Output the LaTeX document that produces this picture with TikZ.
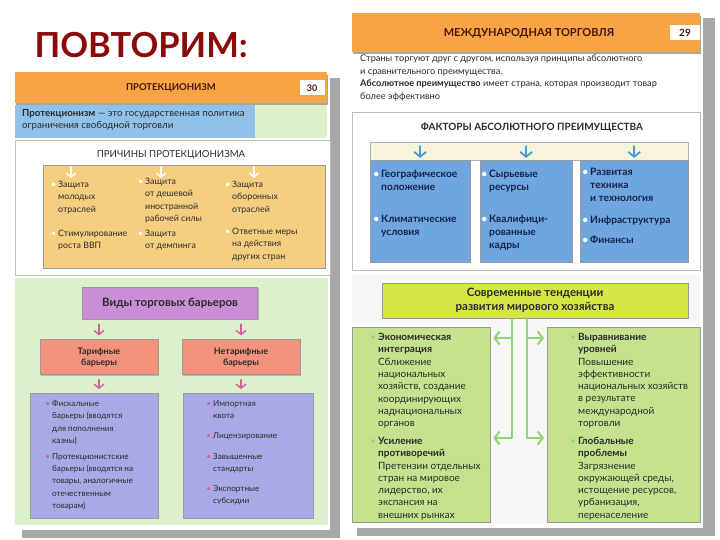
\documentclass[tikz,border=0pt]{standalone}
\usepackage{fontspec}
\setmainfont{Lato}
\usetikzlibrary{arrows.meta,shadows}
\definecolor{titlered}{HTML}{8B0A0A}
\definecolor{hdrorange}{HTML}{F6A444}
\definecolor{hdrink}{HTML}{4A1508}
\definecolor{defblue}{HTML}{8FC1E9}
\definecolor{leafgreen}{HTML}{DCF0CC}
\definecolor{tanfill}{HTML}{F6CE80}
\definecolor{vidpurple}{HTML}{C98ED6}
\definecolor{salmon}{HTML}{F4937C}
\definecolor{lavender}{HTML}{A9A9E6}
\definecolor{factblue}{HTML}{6FA6DF}
\definecolor{factink}{HTML}{13234A}
\definecolor{cream}{HTML}{F8F4DC}
\definecolor{lime}{HTML}{D6E645}
\definecolor{trendgreen}{HTML}{C5E38E}
\definecolor{arrgreen}{HTML}{93D47A}
\definecolor{arrblue}{HTML}{4A9AD8}
\definecolor{arrpink}{HTML}{D0609E}
\definecolor{inktxt}{HTML}{2A2A2A}
\definecolor{pageshadow}{HTML}{A8A8A8}
\newcommand\bul[1]{\llap{\textcolor{#1}{\textbullet}\hspace{2pt}}}

\begin{document}
\begin{tikzpicture}[x=1pt,y=-1pt,line cap=round,line join=round,
  txt/.style={anchor=north west,align=left,inner sep=0pt,text=inktxt,
    font=\fontsize{8.8}{12.4}\selectfont},
  smalltxt/.style={txt,font=\fontsize{8.2}{12.4}\selectfont},
  bigtxt/.style={txt,font=\fontsize{10}{12.3}\selectfont},
  facttxt/.style={txt,text=factink,font=\fontsize{10.2}{13}\selectfont\bfseries},
  hdrtext/.style={text=hdrink,font=\bfseries},
  pagenum/.style={fill=white,inner sep=1pt,minimum height=15,align=right,
    text=hdrink,font=\fontsize{9}{10}\selectfont\bfseries},
  box/.style={draw=black!40,line width=0.3pt,
    drop shadow={shadow xshift=1pt,shadow yshift=-1.2pt,opacity=.45}},
  whitearr/.style={white,line width=1.4pt,-{Straight Barb[length=4pt,width=9pt]}},
  pinkarr/.style={arrpink,line width=1.4pt,-{Straight Barb[length=4pt,width=10pt]},
    shorten <=5pt,shorten >=4pt},
  bluearr/.style={arrblue,line width=1.8pt,-{Straight Barb[length=5pt,width=12pt]}},
  grnline/.style={arrgreen,line width=2pt},
  grnarr/.style={grnline,-{Straight Barb[length=5pt,width=13pt]},shorten >=3pt}]
\useasboundingbox (0,0) rectangle (720,540);

\node[anchor=base west,text=titlered,font=\fontsize{34.5}{36}\selectfont\bfseries]
  (ttl) at (31,58) {ПОВТОРИМ:};

% left page: protectionism
\fill[pageshadow] (22,78) rectangle (340,538);
\fill[white] (15,72) rectangle (330,530);
\fill[leafgreen] (15,278) rectangle (328,525);
\fill[black!35] (16,75) rectangle (328,105);
\fill[hdrorange] (15,72) rectangle (327,103);
\node[hdrtext,font=\fontsize{9.5}{11}\selectfont\bfseries] (protH) at (171,88) {ПРОТЕКЦИОНИЗМ};
\node[pagenum,minimum width=25] (p30) at (312,88) {30};
\fill[defblue] (15,105) rectangle (255,138);
\fill[leafgreen] (255,105) rectangle (327,138);
\node[txt,font=\fontsize{9.7}{12.4}\selectfont] (def) at (22,109)
  {\textbf{Протекционизм} — это государственная политика\\ограничения свободной торговли};

\draw[black!25,fill=white] (15,140) rectangle (330,275);
\node[text=inktxt,font=\fontsize{9.6}{11}\selectfont] (causeT) at (171,155) {ПРИЧИНЫ ПРОТЕКЦИОНИЗМА};
\node[box,fill=tanfill,anchor=north west,minimum width=282,minimum height=103]
  (tan) at (43,165) {};
\foreach \x in {71,161,254}
  \draw[whitearr] (tan.north -| \x,0) ++(0,2) -- ++(0,11);
\node[txt] (c1) at (58,181) {\bul{white}Защита\\молодых\\отраслей};
\node[txt] (c2) at (58,230) {\bul{white}Стимулирование\\роста ВВП};
\node[txt] (c3) at (145,178) {\bul{white}Защита\\от дешевой\\иностранной\\рабочей силы};
\node[txt] (c4) at (145,230) {\bul{white}Защита\\от демпинга};
\node[txt] (c5) at (232,181) {\bul{white}Защита\\оборонных\\отраслей};
\node[txt] (c6) at (232,228) {\bul{white}Ответные меры\\на действия\\других стран};

% trade barriers
\node[box,fill=vidpurple,minimum width=175,minimum height=32,text=inktxt,
  font=\fontsize{11.5}{13}\selectfont\bfseries] (vid) at (170,303) {Виды торговых барьеров};
\node[box,fill=salmon,minimum width=118,minimum height=35,align=center,text=inktxt,
  font=\fontsize{9}{11}\selectfont\bfseries] (tar) at (99,357) {Тарифные\\барьеры};
\node[box,fill=salmon,minimum width=118,minimum height=35,align=center,text=inktxt,
  font=\fontsize{9}{11}\selectfont\bfseries] (netar) at (241,357) {Нетарифные\\барьеры};
\node[box,fill=lavender,anchor=north west,minimum width=128,minimum height=125]
  (lavL) at (30,393) {};
\node[box,fill=lavender,anchor=north west,minimum width=130,minimum height=125]
  (lavR) at (183,393) {};
\draw[pinkarr] (tar.north |- vid.south) -- (tar.north);
\draw[pinkarr] (netar.north |- vid.south) -- (netar.north);
\draw[pinkarr] (tar.south) -- (tar.south |- lavL.north);
\draw[pinkarr] (netar.south) -- (netar.south |- lavR.north);
\node[smalltxt] (b1) at (52,400) {\bul{arrpink}Фискальные\\барьеры (вводятся\\для пополнения\\казны)};
\node[smalltxt] (b2) at (52,453) {\bul{arrpink}Протекционистские\\барьеры (вводятся на\\товары, аналогичные\\отечественным\\товарам)};
\node[smalltxt] (b3) at (213,400) {\bul{arrpink}Импортная\\квота};
\node[smalltxt] (b4) at (213,432) {\bul{arrpink}Лицензирование};
\node[smalltxt] (b5) at (213,453) {\bul{arrpink}Завышенные\\стандарты};
\node[smalltxt] (b6) at (213,485) {\bul{arrpink}Экспортные\\субсидии};

% right page: international trade
\fill[pageshadow] (357,18) rectangle (715,536);
\fill[white] (350,12) rectangle (703,528);
\fill[black!35] (353,16) rectangle (701,54);
\fill[hdrorange] (352,13) rectangle (700,52);
\node[hdrtext,font=\fontsize{11}{13}\selectfont\bfseries] (tradeH) at (529,33) {МЕЖДУНАРОДНАЯ ТОРГОВЛЯ};
\node[pagenum,minimum width=30,font=\fontsize{10}{11}\selectfont\bfseries] (p29) at (685,33) {29};
\node[txt,font=\fontsize{9.2}{12.5}\selectfont] (intro) at (360,55)
  {Страны торгуют друг с другом, используя принципы абсолютного\\
   и сравнительного преимущества.\\
   \textbf{Абсолютное преимущество} имеет страна, которая производит товар\\
   более эффективно};

\draw[black!25,fill=white] (352,112) rectangle (700,270);
\node[text=inktxt,font=\fontsize{10}{12}\selectfont\bfseries] (factT) at (532,128)
  {ФАКТОРЫ АБСОЛЮТНОГО ПРЕИМУЩЕСТВА};
\node[fill=cream,draw=black!30,line width=0.3pt,anchor=north west,
  minimum width=318,minimum height=18] (strip) at (370,142) {};
\node[box,fill=factblue,anchor=north west,minimum width=100,minimum height=102] (f1) at (370,160) {};
\node[box,fill=factblue,anchor=north west,minimum width=92,minimum height=102] (f2) at (480,160) {};
\node[box,fill=factblue,anchor=north west,minimum width=108,minimum height=102] (f3) at (580,160) {};
\foreach \f in {f1,f2,f3}
  \draw[bluearr] (\f.north |- strip.north) ++(0,4) -- ++(0,12);
\node[facttxt] (g1) at (381,170) {\bul{white}Географическое\\положение};
\node[facttxt] (g2) at (381,215) {\bul{white}Климатические\\условия};
\node[facttxt] (g3) at (489,170) {\bul{white}Сырьевые\\ресурсы};
\node[facttxt] (g4) at (489,215) {\bul{white}Квалифици-\\рованные\\кадры};
\node[facttxt] (g5) at (590,168) {\bul{white}Развитая\\техника\\и технология};
\node[facttxt] (g6) at (590,216) {\bul{white}Инфраструктура};
\node[facttxt] (g7) at (590,236) {\bul{white}Финансы};

% modern trends
\fill[black!3] (352,275) rectangle (700,524);
\node[box,fill=lime,minimum width=306,minimum height=35,align=center,text=inktxt,
  font=\fontsize{11.5}{14}\selectfont\bfseries] (trend) at (535,300.5)
  {Современные тенденции\\развития мирового хозяйства};
\node[box,fill=trendgreen,anchor=north west,minimum width=138,minimum height=195] (ekL) at (352,327) {};
\node[box,fill=trendgreen,anchor=north west,minimum width=153,minimum height=195] (ekR) at (547,327) {};
\coordinate (lt) at (512,338);
\coordinate (lb) at (512,438);
\coordinate (rt) at (527,338);
\coordinate (rb) at (527,438);
\draw[grnarr] (trend.south -| lb) -- (lb) -- (lb -| ekL.east);
\draw[grnarr] (trend.south -| rb) -- (rb) -- (rb -| ekR.west);
\draw[grnarr] (lt) -- (lt -| ekL.east);
\draw[grnarr] (rt) -- (rt -| ekR.west);
\node[bigtxt] (t1) at (378,333) {\bul{arrgreen}\textbf{Экономическая}\\\textbf{интеграция}\\
  Сближение\\национальных\\хозяйств, создание\\координирующих\\наднациональных\\органов};
\node[bigtxt] (t2) at (378,437) {\bul{arrgreen}\textbf{Усиление}\\\textbf{противоречий}\\
  Претензии отдельных\\стран на мировое\\лидерство, их\\экспансия на\\внешних рынках};
\node[bigtxt] (t3) at (578,333) {\bul{arrgreen}\textbf{Выравнивание}\\\textbf{уровней}\\
  Повышение\\эффективности\\национальных хозяйств\\в результате\\международной\\торговли};
\node[bigtxt] (t4) at (578,437) {\bul{arrgreen}\textbf{Глобальные}\\\textbf{проблемы}\\
  Загрязнение\\окружающей среды,\\истощение ресурсов,\\урбанизация,\\перенаселение};
\end{tikzpicture}
\end{document}
